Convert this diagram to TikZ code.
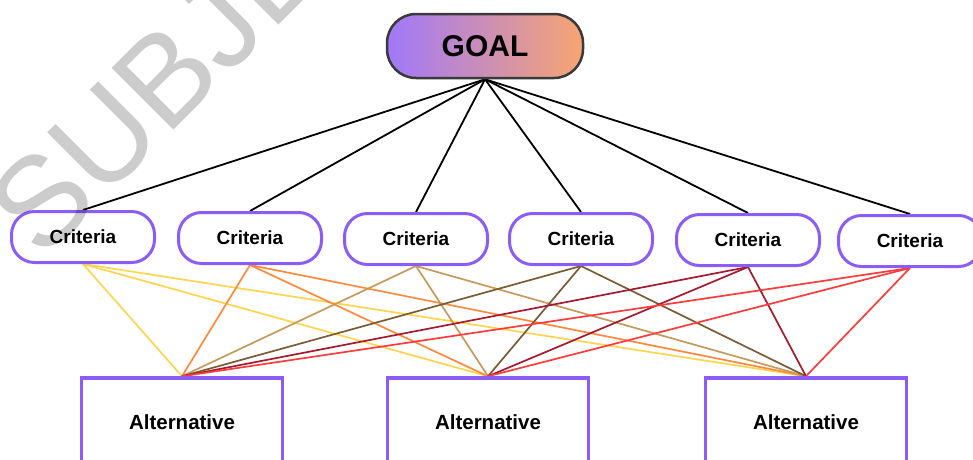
\documentclass[tikz,border=0pt]{standalone}
\usepackage{fontspec}
\setmainfont{Liberation Sans}
\usetikzlibrary{backgrounds}
\definecolor{critpurple}{HTML}{8B5CF6}
\definecolor{goalleft}{HTML}{A078FA}
\definecolor{goalright}{HTML}{F7A571}
\definecolor{goaledge}{HTML}{3A3A3A}
\definecolor{lnyellow}{HTML}{FFD54F}
\definecolor{lnorange}{HTML}{FF8A3D}
\definecolor{lntan}{HTML}{C69A5C}
\definecolor{lnbrown}{HTML}{7B5B34}
\definecolor{lndarkred}{HTML}{A6192E}
\definecolor{lnred}{HTML}{FF3B3B}
\begin{document}
\begin{tikzpicture}[x=1pt,y=-1pt,
  goalbox/.style={draw=goaledge, line width=2.5pt, left color=goalleft, right color=goalright,
    rounded corners=29pt, minimum width=196pt, minimum height=64pt, inner sep=0pt,
    font=\fontsize{30}{30}\selectfont\bfseries},
  crit/.style={draw=critpurple, line width=3pt, fill=white, rounded corners=23pt,
    minimum width=143pt, minimum height=51pt, inner sep=0pt,
    font=\fontsize{19}{19}\selectfont\bfseries},
  alt/.style={draw=critpurple, line width=3.5pt, fill=white,
    minimum width=201pt, minimum height=88pt, inner sep=0pt,
    font=\fontsize{20.5}{20.5}\selectfont\bfseries},
  goalline/.style={draw=black, line width=1.8pt},
  link/.style={line width=1.7pt},
  watermark/.style={text=black, inner sep=0pt, rotate=45,
    font=\fontsize{127}{127}\selectfont}
]
\useasboundingbox (0,0) rectangle (973,459);
\clip (0,0) rectangle (973,459);

% goal
\node[goalbox] (goal) at (485,46) {GOAL};

% criteria
\node[crit] (c1) at (83,237) {Criteria};
\node[crit] (c2) at (250,238) {Criteria};
\node[crit] (c3) at (416,239) {Criteria};
\node[crit] (c4) at (581,239) {Criteria};
\node[crit] (c5) at (748,240) {Criteria};
\node[crit] (c6) at (910,241) {Criteria};

% alternatives
\node[alt] (a1) at (182,422) {Alternative};
\node[alt] (a2) at (488,422) {Alternative};
\node[alt] (a3) at (806,422) {Alternative};

\begin{scope}[on background layer]
  \foreach \c in {c1,c2,c3,c4,c5,c6}
    \draw[goalline] (goal.south) -- (\c.north);
  \foreach \c/\col in {c1/lnyellow,c2/lnorange,c3/lntan,c4/lnbrown,c5/lndarkred,c6/lnred}
    \foreach \a in {a1,a2,a3}
      \draw[link,draw=\col] (\c.south) -- (\a.north);
\end{scope}

% translucent watermark lettering
\begin{scope}[transparency group, opacity=0.2]
  \node[watermark, anchor=base west] (wm) at (42,262) {SUBJE};
\end{scope}
\end{tikzpicture}
\end{document}
